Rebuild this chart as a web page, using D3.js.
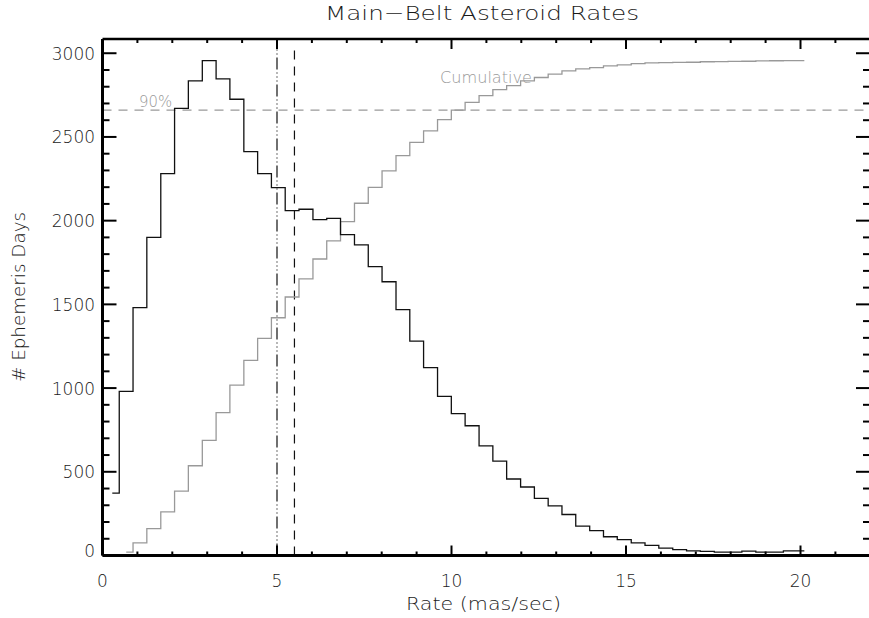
<!DOCTYPE html>
<html>
<head>
<meta charset="utf-8">
<script src="https://cdn.jsdelivr.net/npm/d3@7"></script>
<style>
    body { margin: 0; background: #fff; }
    #rate-chart text { font-family: "DejaVu Sans", sans-serif; font-weight: 200; fill: #1a1a1a; }
</style>
</head>
<body>
<div id="rate-chart"></div>
<script>
// histogram bin centres (mas/sec)
const rateCenters = [0.28, 0.68, 1.07, 1.47, 1.87, 2.26, 2.66, 3.06, 3.45, 3.85,
    4.25, 4.64, 5.04, 5.43, 5.83, 6.23, 6.62, 7.02, 7.42, 7.81,
    8.21, 8.61, 9.00, 9.40, 9.80, 10.19, 10.59, 10.99, 11.38, 11.78,
    12.18, 12.57, 12.97, 13.36, 13.76, 14.16, 14.55, 14.95, 15.35, 15.74,
    16.14, 16.54, 16.93, 17.33, 17.73, 18.12, 18.52, 18.92, 19.31, 19.71, 20.11];

// ephemeris days per bin
const dayCounts = [372, 980, 1480, 1900, 2281, 2671, 2835, 2956, 2847, 2725,
    2412, 2281, 2197, 2060, 2068, 2006, 2014, 1916, 1855, 1725,
    1635, 1468, 1281, 1122, 951, 847, 775, 655, 564, 457,
    409, 341, 297, 245, 176, 148, 112, 95, 75, 60,
    44, 35, 28, 25, 20, 20, 26, 20, 20, 28, 28];

// cumulative curve (scaled to the peak), starts at the second bin
const cumulativeCounts = [20, 76, 160, 261, 385, 536, 688, 853, 1018,
    1166, 1297, 1420, 1544, 1652, 1771, 1879, 1994, 2104, 2199,
    2297, 2389, 2468, 2536, 2604, 2660, 2707, 2747, 2783, 2807,
    2835, 2855, 2875, 2895, 2906, 2914, 2924, 2930, 2938, 2942,
    2944, 2945, 2946, 2949, 2950, 2951, 2952, 2954, 2955, 2956, 2956];

const xMajorTicks = [0, 5, 10, 15, 20];
const yMajorTicks = [0, 500, 1000, 1500, 2000, 2500, 3000];
const rateMarkers = [5.0, 5.5];
const ninetyPercent = 2660;

const width = 869, height = 618;
const plot = { left: 102.5, right: 871, top: 39, bottom: 555.5 };

let svg = d3.select("#rate-chart").append("svg").attr("width", width).attr("height", height);

let x = d3.scaleLinear().domain([0, 22]).range([plot.left, plot.left + 22 * 34.9]);
let y = d3.scaleLinear().domain([0, 3085]).range([plot.bottom, plot.top]);

// reference lines
svg.append("line").attr("x1", plot.left).attr("x2", plot.right)
    .attr("y1", y(ninetyPercent)).attr("y2", y(ninetyPercent))
    .attr("stroke", "#999").attr("stroke-width", 1.2).attr("stroke-dasharray", "9,7");

svg.selectAll(".marker").data(rateMarkers).join("line").classed("marker", true)
    .attr("x1", d => x(d)).attr("x2", d => x(d))
    .attr("y1", y(0)).attr("y2", y(3040))
    .attr("stroke", "#111").attr("stroke-width", 1.2)
    .attr("stroke-dasharray", (d, i) => i === 0 ? "12,3,1,3,1,3,1,3" : "9,7");

// step curves (same as IDL psym=10)
let step = d3.line().curve(d3.curveStep).x(d => x(d[0])).y(d => y(d[1]));

svg.append("path").datum(d3.zip(rateCenters.slice(1), cumulativeCounts))
    .attr("d", step).attr("fill", "none").attr("stroke", "#999").attr("stroke-width", 1.3);

svg.append("path").datum(d3.zip(rateCenters, dayCounts))
    .attr("d", step).attr("fill", "none").attr("stroke", "#111").attr("stroke-width", 1.3);

// axes box with ticks pointing inward
let axisGroup = svg.append("g").attr("stroke", "#000");
let xMinor = d3.range(0, 23, 1);
let yMinor = d3.range(0, 3100, 100);

axisGroup.append("line").attr("x1", plot.left).attr("x2", plot.right).attr("y1", plot.bottom).attr("y2", plot.bottom).attr("stroke-width", 3);
axisGroup.append("line").attr("x1", plot.left).attr("x2", plot.right).attr("y1", plot.top).attr("y2", plot.top).attr("stroke-width", 2.5);
axisGroup.append("line").attr("x1", plot.left).attr("x2", plot.left).attr("y1", plot.top).attr("y2", plot.bottom).attr("stroke-width", 3);
axisGroup.append("line").attr("x1", plot.right).attr("x2", plot.right).attr("y1", plot.top).attr("y2", plot.bottom).attr("stroke-width", 3);

xMinor.forEach(v => {
    let len = xMajorTicks.includes(v) ? 10 : 4;
    axisGroup.append("line").attr("x1", x(v)).attr("x2", x(v)).attr("y1", plot.bottom).attr("y2", plot.bottom - len).attr("stroke-width", 2);
    axisGroup.append("line").attr("x1", x(v)).attr("x2", x(v)).attr("y1", plot.top).attr("y2", plot.top + len).attr("stroke-width", 2);
});
yMinor.forEach(v => {
    let len = yMajorTicks.includes(v) ? 14 : 7;
    axisGroup.append("line").attr("x1", plot.left).attr("x2", plot.left + len).attr("y1", y(v)).attr("y2", y(v)).attr("stroke-width", 2);
    axisGroup.append("line").attr("x1", plot.right - 1).attr("x2", plot.right - 1 - len).attr("y1", y(v)).attr("y2", y(v)).attr("stroke-width", 2);
});

// tick labels
svg.selectAll(".x-label").data(xMajorTicks).join("text").classed("x-label", true)
    .attr("x", d => x(d)).attr("y", 586.5).attr("text-anchor", "middle")
    .attr("font-size", 17.5).text(d => d)
    .attr("textLength", d => String(d).length * 10.8).attr("lengthAdjust", "spacingAndGlyphs");

svg.selectAll(".y-label").data(yMajorTicks).join("text").classed("y-label", true)
    .attr("x", 95).attr("y", d => y(d) + 6.5 - (d === 0 ? 5 : 0)).attr("text-anchor", "end")
    .attr("font-size", 17.5).text(d => d)
    .attr("textLength", d => String(d).length * 10.8).attr("lengthAdjust", "spacingAndGlyphs");

// titles
svg.append("text").attr("x", 482).attr("y", 20).attr("text-anchor", "middle").attr("font-size", 19.5)
    .attr("textLength", 314).attr("lengthAdjust", "spacingAndGlyphs").text("Main\u2212Belt Asteroid Rates");
svg.append("text").attr("x", 483.5).attr("y", 610).attr("text-anchor", "middle").attr("font-size", 17.5)
    .attr("textLength", 155).attr("lengthAdjust", "spacingAndGlyphs").text("Rate (mas/sec)");
svg.append("text").attr("transform", "translate(25,297) rotate(-90)").attr("text-anchor", "middle").attr("font-size", 17.5)
    .attr("textLength", 170).attr("lengthAdjust", "spacingAndGlyphs").text("# Ephemeris Days");

svg.append("text").attr("x", 139).attr("y", 107).attr("font-size", 16.5).style("fill", "#999")
    .attr("textLength", 33).attr("lengthAdjust", "spacingAndGlyphs").text("90%");
svg.append("text").attr("x", 440).attr("y", 82.5).attr("font-size", 16.5).style("fill", "#999")
    .attr("textLength", 92).attr("lengthAdjust", "spacingAndGlyphs").text("Cumulative");
</script>
</body>
</html>
